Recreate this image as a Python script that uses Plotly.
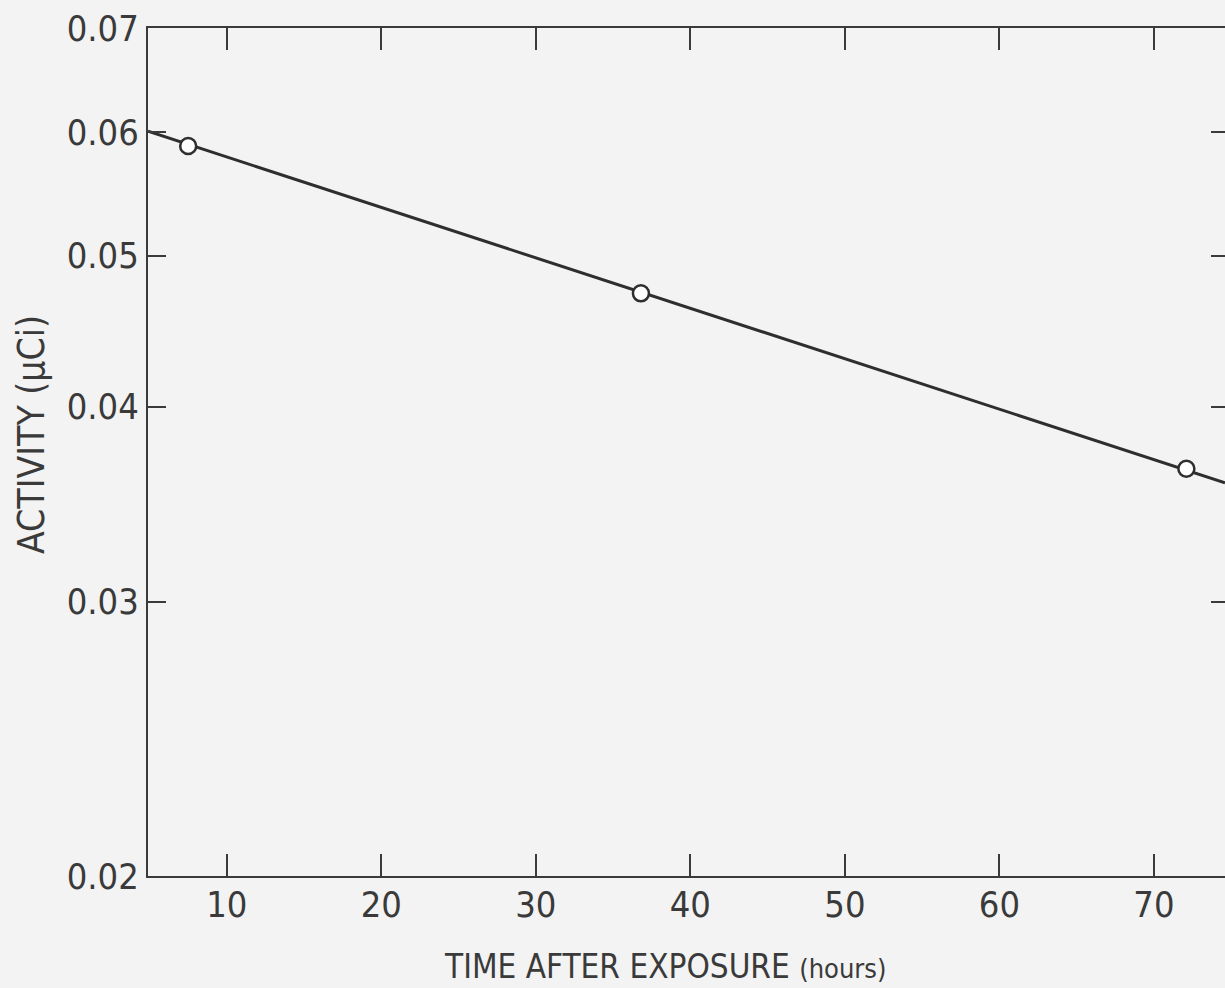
import math
import plotly.graph_objects as go

# Data
time_hours = [7.5, 36.8, 72.1]
activity_uci = [0.0588, 0.0473, 0.0365]

fit_time = [4.9, 74.6]
fit_activity = [0.0601, 0.03575]

x_ticks = [10, 20, 30, 40, 50, 60, 70]
y_ticks = [0.02, 0.03, 0.04, 0.05, 0.06, 0.07]
y_tick_text = ["0.02", "0.03", "0.04", "0.05", "0.06", "0.07"]

FONT = "DejaVu Sans Condensed, Liberation Sans Narrow, Liberation Sans, sans-serif"
INK = "#3a3a3a"
BG = "#f3f3f3"

fig = go.Figure()
fig.add_trace(go.Scatter(
    x=fit_time, y=fit_activity, mode="lines",
    line=dict(color="#2e2e2e", width=3), showlegend=False, hoverinfo="skip"))
fig.add_trace(go.Scatter(
    x=time_hours, y=activity_uci, mode="markers",
    marker=dict(symbol="circle", size=16, color="white",
                line=dict(color="#2e2e2e", width=2.5)),
    showlegend=False))
# invisible trace for right-hand tick marks
fig.add_trace(go.Scatter(x=fit_time, y=fit_activity, yaxis="y2", mode="lines",
                         line=dict(width=0), showlegend=False, hoverinfo="skip"))

yr = [math.log10(0.02), math.log10(0.07)]

fig.update_layout(
    width=1225, height=988,
    margin=dict(l=148, r=0, t=28, b=112),
    paper_bgcolor=BG, plot_bgcolor=BG,
    font=dict(family=FONT, color=INK, size=36),
    xaxis=dict(range=[4.9, 74.6], tickvals=x_ticks, ticktext=[str(v) for v in x_ticks],
               ticks="inside", ticklen=22, tickwidth=2, tickcolor=INK,
               showline=True, linecolor=INK, linewidth=2, mirror="ticks",
               showgrid=False, zeroline=False, ticklabelstandoff=-4,
               tickfont=dict(family=FONT, size=36, color=INK)),
    yaxis=dict(type="log", range=yr, tickvals=y_ticks, ticktext=y_tick_text,
               ticks="inside", ticklen=18, tickwidth=2, tickcolor=INK,
               showline=True, linecolor=INK, linewidth=2,
               showgrid=False, zeroline=False,
               tickfont=dict(family=FONT, size=36, color=INK)),
    yaxis2=dict(type="log", range=yr, overlaying="y", side="right",
                tickvals=y_ticks, showticklabels=False,
                ticks="inside", ticklen=14, tickwidth=2, tickcolor=INK,
                showline=False, showgrid=False, zeroline=False),
    annotations=[
        dict(text="TIME AFTER EXPOSURE <span style='font-size:27px'>(hours)</span>",
             xref="paper", yref="paper", x=(665 - 148) / 1077, y=-(966 - 876) / 848,
             xanchor="center", yanchor="middle", showarrow=False,
             font=dict(family=FONT, size=33, color=INK)),
        dict(text="ACTIVITY (\u03bcCi)", textangle=-90,
             xref="paper", yref="paper", x=(31 - 148) / 1077, y=(876 - 435) / 848,
             xanchor="center", yanchor="middle", showarrow=False,
             font=dict(family=FONT, size=37, color=INK)),
    ],
)

fig.write_html("out.html", config={"displayModeBar": False},
               post_script="document.body.style.margin='0';document.body.style.background='%s';" % BG)
